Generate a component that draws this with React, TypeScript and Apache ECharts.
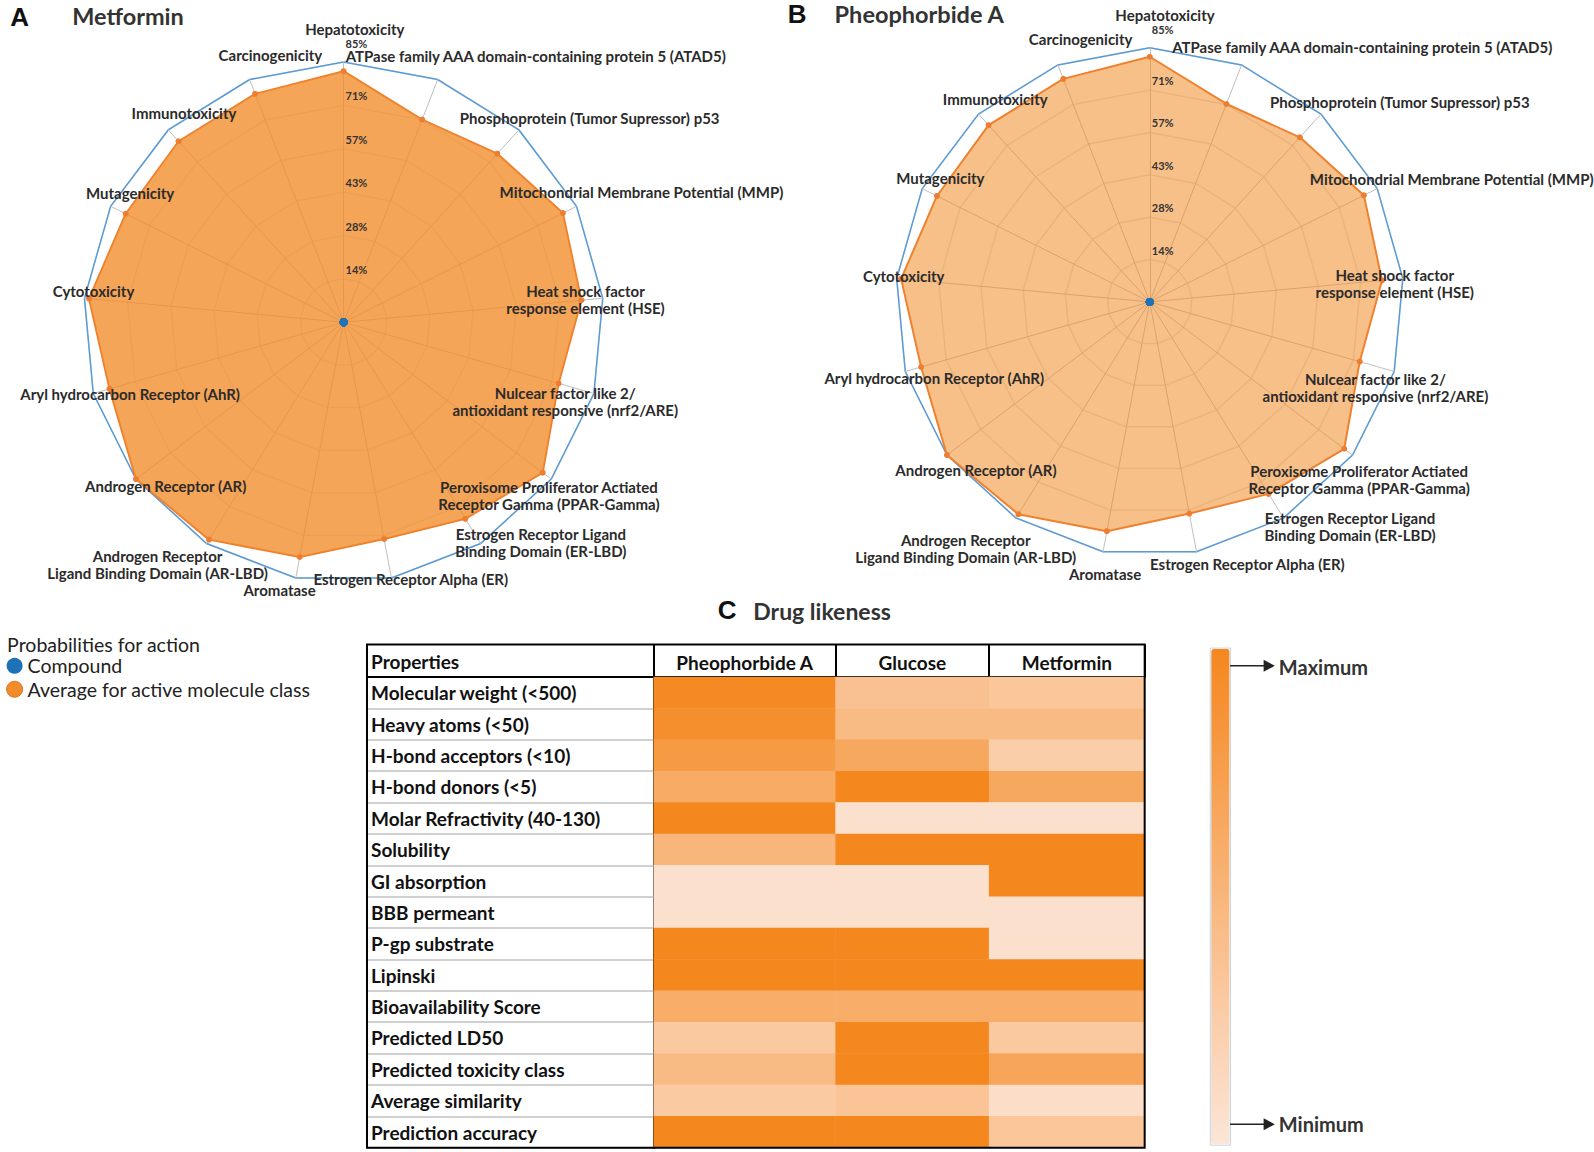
import React, { useEffect, useRef } from 'react';
import * as echarts from 'echarts';

const FONT = "Lato, 'Open Sans', 'DejaVu Sans', sans-serif";
const LETTER_FONT = "'Liberation Sans', Arial, sans-serif";

// ---------- Radar data (clockwise from top) ----------
const radarAxes = [
  'Hepatotoxicity',
  'ATPase family AAA domain-containing protein 5 (ATAD5)',
  'Phosphoprotein (Tumor Supressor) p53',
  'Mitochondrial Membrane Potential (MMP)',
  'Heat shock factor\nresponse element (HSE)',
  'Nulcear factor like 2/\nantioxidant responsive (nrf2/ARE)',
  'Peroxisome Proliferator Actiated\nReceptor Gamma (PPAR-Gamma)',
  'Estrogen Receptor Ligand\nBinding Domain (ER-LBD)',
  'Estrogen Receptor Alpha (ER)',
  'Aromatase',
  'Androgen Receptor\nLigand Binding Domain (AR-LBD)',
  'Androgen Receptor (AR)',
  'Aryl hydrocarbon Receptor (AhR)',
  'Cytotoxicity',
  'Mutagenicity',
  'Immunotoxicity',
  'Carcinogenicity',
];
const probabilityMax = 0.85;
const probabilitySplits = 6;
const averageActiveClass = [0.82, 0.71, 0.745, 0.8, 0.78, 0.73, 0.815, 0.755, 0.72, 0.78, 0.835, 0.85, 0.795, 0.835, 0.795, 0.8, 0.8];
const compoundMetformin = [0, 0, 0, 0, 0, 0, 0, 0, 0, 0, 0, 0, 0, 0, 0, 0, 0];
const compoundPheophorbide = [0, 0, 0, 0, 0, 0, 0, 0, 0, 0, 0, 0, 0, 0, 0, 0, 0];

// ---------- Drug likeness heatmap (0 = minimum, 1 = maximum) ----------
const properties = [
  'Molecular weight (<500)',
  'Heavy atoms (<50)',
  'H-bond acceptors (<10)',
  'H-bond donors (<5)',
  'Molar Refractivity (40-130)',
  'Solubility',
  'GI absorption',
  'BBB permeant',
  'P-gp substrate',
  'Lipinski',
  'Bioavailability Score',
  'Predicted LD50',
  'Predicted toxicity class',
  'Average similarity',
  'Prediction accuracy',
];
const compounds = ['Pheophorbide A', 'Glucose', 'Metformin'];
const pheophorbideA = [0.97, 0.93, 0.8, 0.62, 1, 0.5, 0.05, 0.05, 1, 1, 0.6, 0.3, 0.45, 0.28, 1];
const glucose = [0.38, 0.45, 0.65, 1, 0.05, 1, 0.05, 0.05, 1, 1, 0.6, 1, 1, 0.35, 1];
const metformin = [0.33, 0.45, 0.25, 0.65, 0.05, 1, 1, 0.05, 0.05, 1, 0.6, 0.3, 0.68, 0.08, 0.33];
const heatValues = [pheophorbideA, glucose, metformin];

// ---------- Layout (measured on a 1568-wide view, scaled to 1594) ----------
const S = 1594 / 1568;
const p = (v: number) => v * S;
const radarA = { cx: p(338), cy: p(317), r: p(256) };
const radarB = { cx: p(1131), cy: p(297), r: p(250) };
const labelOffsetsA = [[11, -288], [189, -262], [242, -201], [293, -128], [238, -22], [218, 78], [202, 170], [194, 217], [66, 253], [-63, 263], [-183, 238], [-175, 161], [-210, 71], [-246, -31], [-210, -127], [-157, -206], [-72, -263]];
const labelOffsetsB = [[15, -282], [209, -251], [246, -197], [297, -121], [241, -18], [222, 84], [206, 175], [197, 221], [96, 258], [-44, 268], [-181, 243], [-171, 165], [-212, 75], [-242, -26], [-206, -122], [-152, -200], [-68, -259]];
const table = { left: p(361), top: p(634), right: p(1126), bottom: p(1129), headerBottom: p(666) };
const colEdges = [p(643), p(822), p(973), p(1126)];
const NAME_LH = 17;

const n = radarAxes.length;
// ECharts radar runs counter-clockwise; reorder so the picture runs clockwise
const order = [0, ...Array.from({ length: n - 1 }, (_, k) => n - 1 - k)];
const reorder = (arr: number[]) => order.map((i) => arr[i]);

function nameIndicators(geo: { r: number }, offsets: number[][]) {
  return order.map((i) => {
    const phi = (2 * Math.PI * i) / n;
    const vx = geo.r * Math.sin(phi);
    const vy = -geo.r * Math.cos(phi);
    const dx = p(offsets[i][0]) - vx;
    const dy = p(offsets[i][1]) - vy;
    const H = radarAxes[i].split('\n').length * NAME_LH;
    const left = dx > 0 ? 2 * dx : 0;
    const right = dx < 0 ? -2 * dx : 0;
    const style: any = { align: 'center' };
    if (dy >= 0) {
      style.verticalAlign = 'top';
      style.padding = [dy - H / 2, right, 0, left];
    } else {
      style.verticalAlign = 'bottom';
      style.padding = [0, right, -dy - H / 2, left];
    }
    return {
      name: radarAxes[i],
      min: 0,
      max: probabilityMax,
      nameGap: 0,
      nameMoveOverlap: false,
      nameTextStyle: style,
    };
  });
}

const tickTextStyle = { fontSize: 11, fontWeight: 'bold', color: '#333', fontFamily: FONT };

function tickIndicators() {
  return order.map((i) => {
    const ind: any = { name: '', min: 0, max: probabilityMax };
    if (i === 0) {
      ind.axisLabel = {
        show: true,
        formatter: (v: number) => {
          if (v <= 0) return '';
          const txt = Math.round(v * 100 + 1e-6) + '%';
          return v >= probabilityMax - 1e-9 ? `{top|${txt}}` : txt;
        },
        ...tickTextStyle,
        margin: -2,
        align: 'left',
        verticalAlign: 'bottom',
        padding: [0, 0, 4, 0],
        rich: { top: { ...tickTextStyle, padding: [0, 0, 9, 0] } },
      };
    }
    return ind;
  });
}

const hidden = {
  axisLine: { show: false },
  axisTick: { show: false },
  splitLine: { show: false },
  splitArea: { show: false },
};

function gridRadar(geo: { cx: number; cy: number; r: number }) {
  return {
    z: 0,
    center: [geo.cx, geo.cy],
    radius: geo.r,
    startAngle: 90,
    shape: 'polygon',
    splitNumber: probabilitySplits,
    indicator: order.map(() => ({ name: '', min: 0, max: probabilityMax })),
    axisName: { show: false },
    axisLine: { lineStyle: { color: '#BFBFBF', width: 1 } },
    axisTick: { show: false },
    axisLabel: { show: false },
    splitArea: { show: false },
    splitLine: {
      lineStyle: {
        color: ['#E3E3E3', '#E3E3E3', '#E3E3E3', '#E3E3E3', '#E3E3E3', '#E3E3E3', '#5B9BD5'],
        width: 1.5,
      },
    },
  };
}

function nameRadar(geo: { cx: number; cy: number; r: number }, offsets: number[][]) {
  return {
    z: 5,
    center: [geo.cx, geo.cy],
    radius: geo.r,
    startAngle: 90,
    shape: 'polygon',
    splitNumber: probabilitySplits,
    indicator: nameIndicators(geo, offsets),
    axisNameGap: 0,
    axisName: { show: true, color: '#2b2b2b', fontSize: 15, fontWeight: 'bold', fontFamily: FONT, lineHeight: NAME_LH },
    axisLabel: { show: false },
    ...hidden,
  };
}

function tickRadar(geo: { cx: number; cy: number; r: number }) {
  return {
    z: 5,
    center: [geo.cx, geo.cy],
    radius: geo.r,
    startAngle: 90,
    shape: 'polygon',
    splitNumber: probabilitySplits,
    indicator: tickIndicators(),
    axisName: { show: false },
    axisLabel: { show: false },
    ...hidden,
  };
}

function radarSeries(radarIndex: number, compound: number[], fillOpacity: number) {
  return {
    type: 'radar',
    radarIndex,
    silent: true,
    data: [
      {
        name: 'Average for active molecule class',
        value: reorder(averageActiveClass),
        symbol: 'circle',
        symbolSize: 6,
        itemStyle: { color: '#ED7D31' },
        lineStyle: { color: '#ED7D31', width: 2 },
        areaStyle: { color: '#F28C28', opacity: fillOpacity },
      },
      {
        name: 'Compound',
        value: reorder(compound),
        symbol: 'circle',
        symbolSize: 8,
        itemStyle: { color: '#1F72B8' },
        lineStyle: { width: 0, opacity: 0 },
      },
    ],
  };
}

function title(text: string, x: number, cy: number, size: number, weight: any, color: string, family = FONT) {
  return {
    text,
    left: p(x),
    top: p(cy) - size / 2,
    padding: 0,
    textStyle: { fontSize: size, fontWeight: weight, color, fontFamily: family, lineHeight: size },
  };
}

export default function App() {
  const ref = useRef<HTMLDivElement>(null);
  useEffect(() => {
    document.body.style.margin = '0';
    if (!ref.current) return;
    const chart = echarts.init(ref.current, undefined, { renderer: 'svg' });
    const bodyTop = table.headerBottom;
    const bodyH = table.bottom - bodyTop;
    const option: any = {
      animation: false,
      backgroundColor: '#ffffff',
      title: [
        title('A', 10, 17, 26, 'bold', '#111', LETTER_FONT),
        title('Metformin', 71, 16, 23.5, 'bold', '#333'),
        title('B', 775, 14, 26, 'bold', '#111', LETTER_FONT),
        title('Pheophorbide A', 821, 14, 23.5, 'bold', '#333'),
        title('C', 706, 600, 26, 'bold', '#111', LETTER_FONT),
        title('Drug likeness', 741, 601, 23, 'bold', '#333'),
        title('Probabilities for action', 7, 634, 19.5, 'normal', '#222'),
        title('Properties', 365, 651, 19, 'bold', '#111'),
      ],
      legend: {
        orient: 'vertical',
        left: p(6),
        top: p(654) - 9,
        padding: 0,
        itemGap: p(23) - 20,
        itemWidth: 16,
        itemHeight: 16,
        icon: 'circle',
        selectedMode: false,
        textStyle: { fontSize: 19.5, color: '#222', fontFamily: FONT, lineHeight: 18 },
        data: [
          { name: 'Compound', itemStyle: { color: '#1F72B8' } },
          { name: 'Average for active molecule class', itemStyle: { color: '#F28C28', borderColor: '#D9752A', borderWidth: 1 } },
        ],
      },
      radar: [
        gridRadar(radarA),
        gridRadar(radarB),
        nameRadar(radarA, labelOffsetsA),
        nameRadar(radarB, labelOffsetsB),
        tickRadar(radarA),
        tickRadar(radarB),
      ],
      grid: [
        { left: table.left, top: bodyTop, width: colEdges[0] - table.left, height: bodyH, outerBoundsMode: 'none' },
        ...compounds.map((_, k) => ({
          left: colEdges[k], top: bodyTop, width: colEdges[k + 1] - colEdges[k], height: bodyH, outerBoundsMode: 'none',
        })),
      ],
      xAxis: [
        {
          type: 'category', gridIndex: 0, position: 'top', data: [''],
          axisLine: { show: true, lineStyle: { color: '#000', width: 2 } },
          axisTick: { show: false }, axisLabel: { show: false }, splitLine: { show: false },
        },
        ...compounds.map((c, k) => ({
          type: 'category', gridIndex: k + 1, position: 'top', data: [c],
          axisLine: { show: true, lineStyle: { color: '#000', width: 2 } },
          axisTick: { show: true, length: bodyTop - table.top, lineStyle: { color: '#000', width: 2 } },
          axisLabel: { fontSize: 19, fontWeight: 'bold', color: '#111', fontFamily: FONT, margin: 5 },
          splitLine: { show: false },
        })),
      ],
      yAxis: [
        {
          type: 'category', gridIndex: 0, data: properties, inverse: true,
          axisLine: { show: false }, axisTick: { show: false },
          axisLabel: { inside: true, margin: 4, align: 'left', fontSize: 19, fontWeight: 'bold', color: '#111', fontFamily: FONT },
          splitLine: { show: true, lineStyle: { color: '#D0D0D0', width: 2 } },
        },
        ...compounds.map((_, k) => ({
          type: 'category', gridIndex: k + 1, data: properties, inverse: true,
          axisLine: { show: k === 0, lineStyle: { color: '#000', width: 2 } },
          axisTick: { show: false }, axisLabel: { show: false }, splitLine: { show: false },
        })),
      ],
      visualMap: {
        type: 'continuous',
        min: 0,
        max: 1,
        seriesIndex: [2, 3, 4],
        orient: 'vertical',
        left: p(1191) - 1,
        top: p(638) - 1,
        itemWidth: p(18),
        itemHeight: p(487),
        text: null,
        calculable: false,
        hoverLink: false,
        padding: 1,
        borderColor: '#C8D2DC',
        borderWidth: 1,
        inRange: { color: ['#FCE5D7', '#F5871F'] },
      },
      series: [
        radarSeries(0, compoundMetformin, 0.78),
        radarSeries(1, compoundPheophorbide, 0.55),
        ...heatValues.map((vals, k) => ({
          type: 'heatmap',
          xAxisIndex: k + 1,
          yAxisIndex: k + 1,
          silent: true,
          data: vals.map((v, i) => [0, i, v]),
          itemStyle: { borderWidth: 0 },
        })),
      ],
      graphic: [
        {
          type: 'rect', z: 100,
          shape: { x: table.left, y: table.top, width: table.right - table.left, height: table.bottom - table.top },
          style: { fill: 'none', stroke: '#000', lineWidth: 2 },
        },
        { type: 'line', z: 100, shape: { x1: p(1210), y1: p(655), x2: p(1247), y2: p(655) }, style: { stroke: '#222', lineWidth: 1.5 } },
        { type: 'polygon', z: 100, shape: { points: [[p(1243), p(655) - 6], [p(1254), p(655)], [p(1243), p(655) + 6]] }, style: { fill: '#222' } },
        { type: 'text', z: 100, x: p(1258), y: p(656), style: { text: 'Maximum', fill: '#333', font: `bold 20px ${FONT}`, verticalAlign: 'middle', align: 'left' } },
        { type: 'line', z: 100, shape: { x1: p(1210), y1: p(1106), x2: p(1247), y2: p(1106) }, style: { stroke: '#222', lineWidth: 1.5 } },
        { type: 'polygon', z: 100, shape: { points: [[p(1243), p(1106) - 6], [p(1254), p(1106)], [p(1243), p(1106) + 6]] }, style: { fill: '#222' } },
        { type: 'text', z: 100, x: p(1258), y: p(1106), style: { text: 'Minimum', fill: '#333', font: `bold 20px ${FONT}`, verticalAlign: 'middle', align: 'left' } },
      ],
    };
    chart.setOption(option);
    return () => chart.dispose();
  }, []);
  return <div ref={ref} style={{ width: 1594, height: 1152, position: 'absolute', left: 0, top: 0 }} />;
}
